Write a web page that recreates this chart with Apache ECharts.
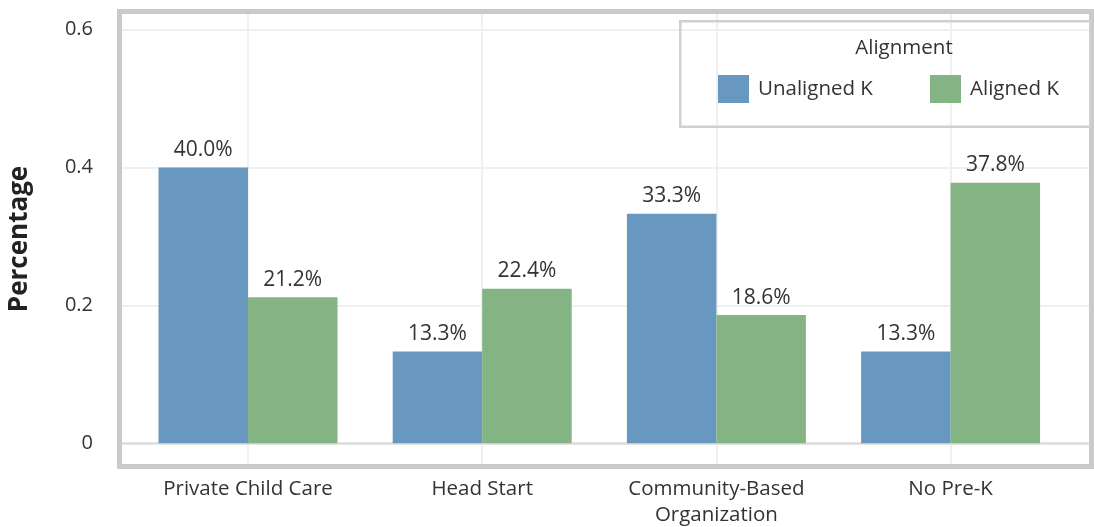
<!DOCTYPE html>
<html>
<head>
<meta charset="utf-8">
<style>
  html, body { margin: 0; padding: 0; background: #ffffff; }
  #chart { width: 1094px; height: 527px; }
</style>
<script src="https://cdn.jsdelivr.net/npm/echarts@6/dist/echarts.min.js"></script>
</head>
<body>
<div id="chart"></div>
<script>
// Share of children by pre-K setting, split by kindergarten alignment
const categories = ['Private Child Care', 'Head Start', 'Community-Based\nOrganization', 'No Pre-K'];
const seriesNames = ['Unaligned K', 'Aligned K'];
const unalignedK = [0.400, 0.133, 0.333, 0.133];
const alignedK = [0.212, 0.224, 0.186, 0.378];
const yTicks = [0, 0.2, 0.4, 0.6];
const legendTitle = 'Alignment';
const yAxisTitle = 'Percentage';

const FONT = '"Open Sans", "Noto Sans", sans-serif';
const TEXT = '#333333';
const BLUE = '#6898c0';
const GREEN = '#84b483';
const FRAME = '#cacaca';
const GRIDLINE = '#f0f0f0';

const chart = echarts.init(document.getElementById('chart'), null, { renderer: 'canvas' });

const catIndex = categories.map((_, i) => i);

function barSeries(name, values, color) {
  return {
    name: name,
    type: 'bar',
    z: 3,
    barWidth: 89.5,
    barGap: '0%',
    itemStyle: { color: color },
    label: {
      show: true,
      position: 'top',
      distance: 7,
      fontFamily: FONT,
      fontSize: 21,
      color: TEXT,
      formatter: p => (p.value[1] * 100).toFixed(1) + '%'
    },
    emphasis: { disabled: true },
    data: values.map((v, i) => [catIndex[i], v])
  };
}

// light reference lines behind the bars
const guideLines = [];
yTicks.forEach(t => {
  if (t === 0) return;
  guideLines.push({ yAxis: t, lineStyle: { color: GRIDLINE, width: 2, type: 'solid' } });
});
catIndex.forEach(i => {
  guideLines.push({ xAxis: i, lineStyle: { color: GRIDLINE, width: 2, type: 'solid' } });
});
guideLines.push({ yAxis: 0, lineStyle: { color: '#dcdcdc', width: 2.5, type: 'solid' } });

const legendText = { fontFamily: FONT, fontSize: 20.5, color: TEXT, padding: [0, 0, 0, 4] };

const option = {
  animation: false,
  backgroundColor: '#ffffff',
  textStyle: { fontFamily: FONT },
  grid: { left: 122, right: 5, top: 14, bottom: 63, containLabel: false, outerBoundsMode: 'none' },
  xAxis: {
    type: 'value',
    min: -0.538,
    max: 3.591,
    axisLine: { show: false },
    axisTick: { show: false, customValues: catIndex },
    splitLine: { show: false },
    axisLabel: {
      customValues: catIndex,
      formatter: v => categories[Math.round(v)],
      fontFamily: FONT,
      fontSize: 20.5,
      lineHeight: 26,
      color: TEXT,
      margin: 12
    }
  },
  yAxis: {
    type: 'value',
    min: -0.030,
    max: 0.6226,
    name: yAxisTitle,
    nameLocation: 'middle',
    nameGap: 89,
    nameTextStyle: { fontFamily: FONT, fontSize: 26, fontWeight: 'bold', color: '#222222' },
    axisLine: { show: false },
    axisTick: { show: false, customValues: yTicks },
    splitLine: { show: false },
    axisLabel: {
      customValues: yTicks,
      formatter: v => (v === 0 ? '0' : String(v)),
      fontFamily: FONT,
      fontSize: 20,
      color: TEXT,
      margin: 29
    }
  },
  legend: [
    {
      z: 8,
      padding: 0,
      data: [seriesNames[0]],
      left: 718, top: 75,
      itemWidth: 31, itemHeight: 28,
      icon: 'rect',
      selectedMode: false,
      textStyle: legendText
    },
    {
      z: 8,
      padding: 0,
      data: [seriesNames[1]],
      left: 930, top: 75,
      itemWidth: 31, itemHeight: 28,
      icon: 'rect',
      selectedMode: false,
      textStyle: legendText
    }
  ],
  graphic: [
    {
      type: 'rect',
      z: 10,
      silent: true,
      shape: { x: 119.5, y: 11.5, width: 972, height: 455 },
      style: { fill: null, stroke: FRAME, lineWidth: 5 }
    },
    {
      type: 'rect',
      z: 10,
      silent: true,
      shape: { x: 680.25, y: 21.25, width: 410, height: 105.5 },
      style: { fill: null, stroke: '#d0d0d0', lineWidth: 2.5 }
    },
    {
      type: 'text',
      z: 10,
      silent: true,
      x: 904, y: 48,
      style: {
        text: legendTitle,
        fontFamily: FONT, fontSize: 20.5, fill: TEXT,
        align: 'center', verticalAlign: 'middle'
      }
    }
  ],
  series: [
    {
      name: 'guides',
      type: 'line',
      z: 1,
      data: [],
      silent: true,
      markLine: {
        z: 1,
        silent: true,
        symbol: 'none',
        label: { show: false },
        animation: false,
        data: guideLines
      }
    },
    barSeries(seriesNames[0], unalignedK, BLUE),
    barSeries(seriesNames[1], alignedK, GREEN)
  ]
};

chart.setOption(option);
</script>
</body>
</html>
